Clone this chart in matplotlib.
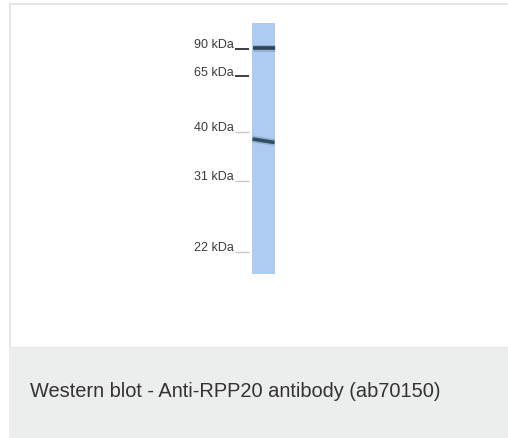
import matplotlib
matplotlib.use("Agg")
from matplotlib import pyplot as plt
from matplotlib.patches import Rectangle

# Data (y = migration distance in image pixels)
marker_labels = ["90 kDa", "65 kDa", "40 kDa", "31 kDa", "22 kDa"]
marker_pos = [50, 77, 133, 182, 253]
marker_dark = [True, True, False, False, False]

band_pos = [48.5, 140.0]
band_drop = [0.0, 3.5]      # right end sits lower than left end
band_strength = [1.0, 0.92]

caption = "Western blot - Anti-RPP20 antibody (ab70150)"

plt.rcParams['font.family'] = ['Liberation Sans', 'DejaVu Sans']

fig = plt.figure(figsize=(5.08, 4.39), dpi=100, facecolor='white')
ax = fig.add_axes([0, 0, 1, 1])
ax.set_xlim(0, 508)
ax.set_ylim(439, 0)
ax.axis('off')

# panel frame and caption strip
ax.add_patch(Rectangle((9.5, 4.5), 520, 344.5, facecolor='white',
                       edgecolor='#e0e0e0', lw=1.2))
ax.add_patch(Rectangle((9, 349), 520, 95, facecolor='#eceded',
                       edgecolor='none'))
ax.text(30, 397, caption, fontsize=14.4, color='#333333',
        ha='left', va='baseline')

# lane
lane_x0, lane_x1 = 252, 275
ax.add_patch(Rectangle((lane_x0, 24), lane_x1 - lane_x0, 251,
                       facecolor='#aecbf1', edgecolor='none'))

# bands (soft halo + dark core)
for y, drop, s in zip(band_pos, band_drop, band_strength):
    xs = [lane_x0 + 0.5, lane_x1 - 0.5]
    ys = [y, y + drop]
    ax.plot(xs, ys, color='#6a88a0', lw=5, alpha=0.4 * s,
            solid_capstyle='butt')
    ax.plot(xs, ys, color='#2b4657', lw=2.6, alpha=s,
            solid_capstyle='butt')

# size markers
for lab, y, dark in zip(marker_labels, marker_pos, marker_dark):
    ax.text(234, y - 1.5, lab, fontsize=9, color='#3a3a3a',
            ha='right', va='baseline')
    ax.plot([235, 249], [y, y], color='#2e2e2e' if dark else '#c9c9c9',
            lw=1.3 if dark else 1.0, solid_capstyle='butt')

fig.savefig('out.png', dpi=100, facecolor='white')
